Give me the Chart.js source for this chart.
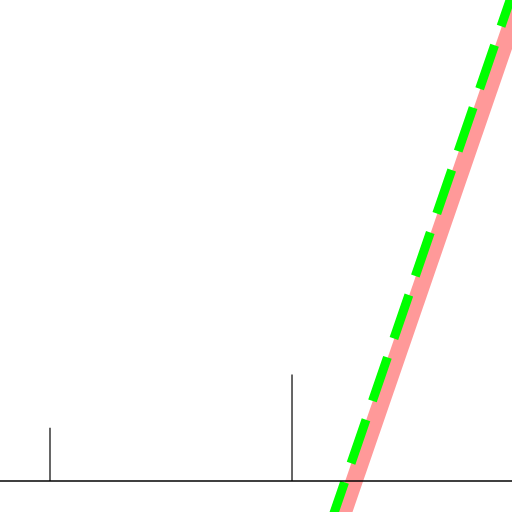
<!DOCTYPE html>
<html>
<head>
<meta charset="utf-8">
<script src="https://cdn.jsdelivr.net/npm/chart.js@4/dist/chart.umd.min.js"></script>
<style>
  html, body { margin: 0; padding: 0; background: #ffffff; }
  #grafico { display: block; }
</style>
</head>
<body>
<canvas id="grafico" width="512" height="512"></canvas>
<script>
// Data (arbitrary units, y = 0 is the baseline)
const stemX = [1, 6];
const stemHeights = [1, 2];
const baselineX = [-1, 12];
const lineX = [6.8, 11];
const redValues = [-1.28, 9.81];
const greenValues = [-0.78, 10.35];

// Visible window of the axes
const xRange = [-0.033, 10.545];
const yRange = [-0.583, 9.04];

const colors = {
  axis: '#000000',
  red: '#ff9999',
  green: '#00ff00'
};

function pontos(xs, ys) {
  return xs.map((x, i) => ({ x: x, y: ys[i] }));
}

const datasets = [
  {
    data: pontos(baselineX, [0, 0]),
    borderColor: colors.axis,
    borderWidth: 1.3,
    order: 0
  },
  ...stemX.map((x, i) => ({
    data: pontos([x, x], [0, stemHeights[i]]),
    borderColor: colors.axis,
    borderWidth: 1.2,
    order: 0
  })),
  {
    data: pontos(lineX, greenValues),
    borderColor: colors.green,
    borderWidth: 9,
    borderDash: [46, 20],
    borderDashOffset: 3.4,
    borderCapStyle: 'butt',
    order: 1
  },
  {
    data: pontos(lineX, redValues),
    borderColor: colors.red,
    borderWidth: 17,
    borderCapStyle: 'butt',
    order: 2
  }
];

new Chart(document.getElementById('grafico'), {
  type: 'line',
  data: { datasets: datasets },
  options: {
    responsive: false,
    animation: false,
    layout: { padding: 0 },
    elements: {
      point: { radius: 0, hoverRadius: 0 },
      line: { tension: 0, fill: false }
    },
    plugins: {
      legend: { display: false },
      tooltip: { enabled: false }
    },
    scales: {
      x: { type: 'linear', display: false, min: xRange[0], max: xRange[1] },
      y: { type: 'linear', display: false, min: yRange[0], max: yRange[1] }
    }
  }
});
</script>
</body>
</html>
